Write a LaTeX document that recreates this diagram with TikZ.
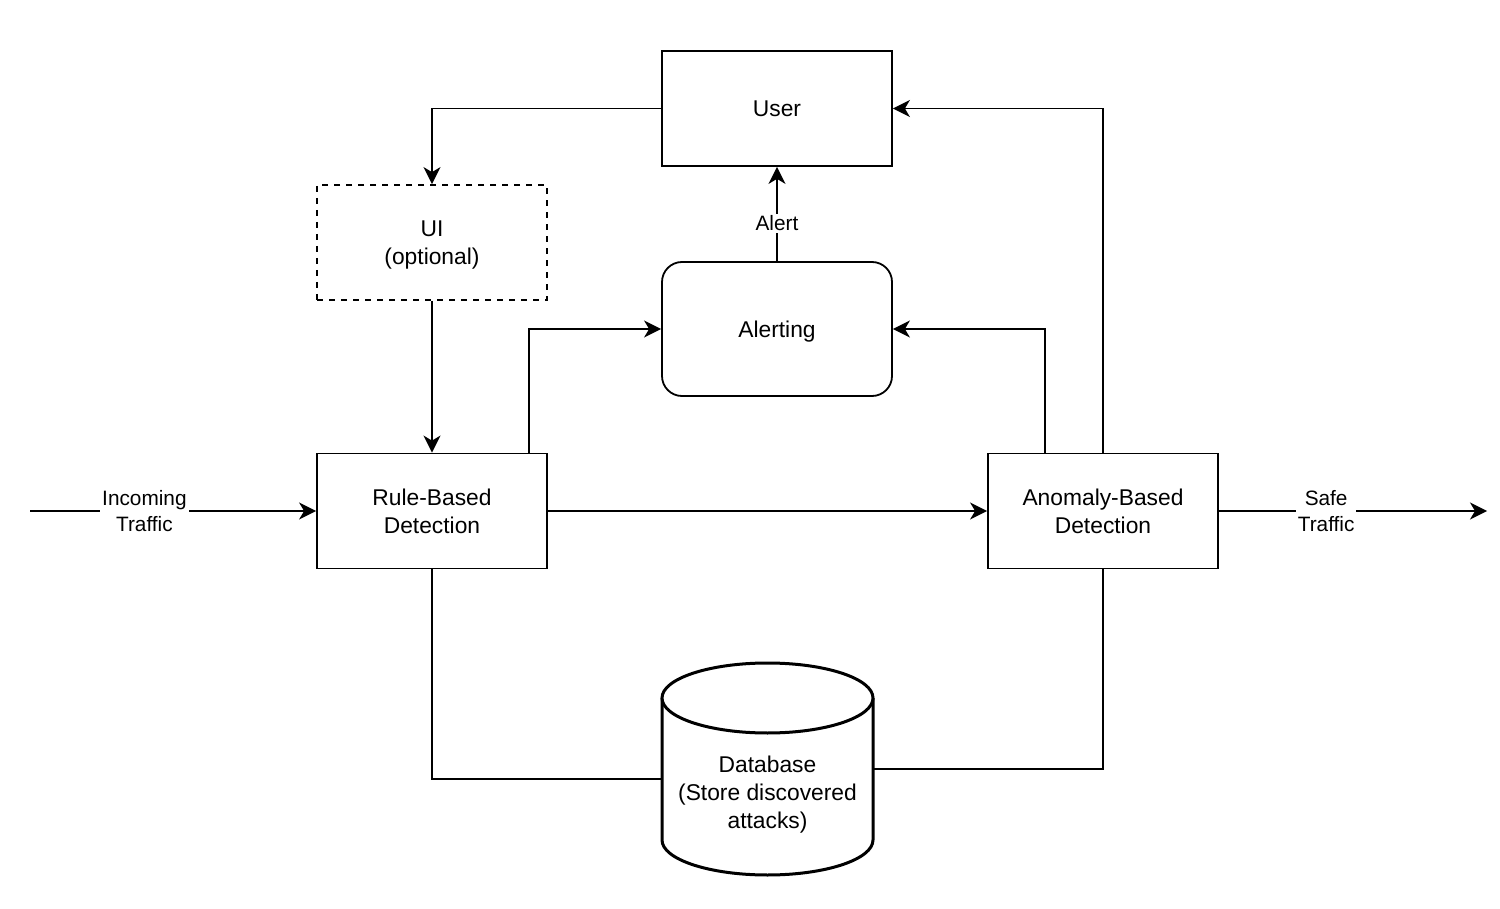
\documentclass[tikz,border=0pt]{standalone}
\usepackage{fontspec}
\setmainfont{Liberation Sans}
\usetikzlibrary{arrows.meta}
\begin{document}
\begin{tikzpicture}[x=0.5pt,y=-0.5pt,
  line width=0.9pt,
  box/.style={draw,rectangle,minimum width=115pt,minimum height=57.5pt,align=center,
    font=\fontsize{11.4pt}{14pt}\selectfont,inner sep=0pt,text depth=-3pt},
  lbl/.style={fill=white,align=center,inner sep=1pt,font=\fontsize{10.4pt}{12.6pt}\selectfont},
  arr/.style={-{Stealth[length=8.5pt,width=8.5pt,inset=2.5pt]}}]
\useasboundingbox (0,0) rectangle (1500,909);

% blocks
\node[box] (user) at (777,108.5) {User};
\node[box,dashed,dash pattern=on 3pt off 3pt] (ui) at (432,242.5) {UI\\(optional)};
\node[box,minimum height=67pt,rounded corners=10pt] (alert) at (777,329) {Alerting};
\node[box] (rule) at (432,511) {Rule-Based\\Detection};
\node[box] (anom) at (1103,511) {Anomaly-Based\\Detection};

% database cylinder
\node[minimum width=105.5pt,minimum height=106pt,inner sep=0pt] (db) at (767.5,769) {};
\draw[line width=1.5pt,fill=white] (662,698) -- (662,840)
  arc[start angle=180,end angle=360,x radius=52.75pt,y radius=17.5pt]
  -- (873,698);
\draw[line width=1.5pt,fill=white] (767.5,698) ellipse [x radius=52.75pt,y radius=17.5pt];
\node[align=center,font=\fontsize{11.4pt}{14pt}\selectfont] (dbtext) at (767.5,795) {Database\\(Store discovered\\attacks)};

% free ends of the traffic line
\coordinate (in) at (30,511);
\coordinate (out) at (1487,511);

% connectors
\draw[arr] (user.west) -| (ui.north);
\draw[arr] (ui.south) -- (rule.north);
\draw[arr] ([xshift=-9.5pt]rule.north east) |- (alert.west);
\draw[arr] ([xshift=-29pt]anom.north) |- (alert.east);
\draw[arr] (anom.north) |- (user.east);
\draw[arr] (alert.north) -- (user.south) node[lbl,pos=0.4] {Alert};
\draw[arr] (in) -- (rule.west) node[lbl,pos=0.4] {Incoming\\Traffic};
\draw[arr] (rule.east) -- (anom.west);
\draw[arr] (anom.east) -- (out) node[lbl,pos=0.4] {Safe\\Traffic};
\draw (rule.south) |- ([yshift=-5pt]db.west);
\draw (anom.south) |- (db.east);
\end{tikzpicture}
\end{document}
